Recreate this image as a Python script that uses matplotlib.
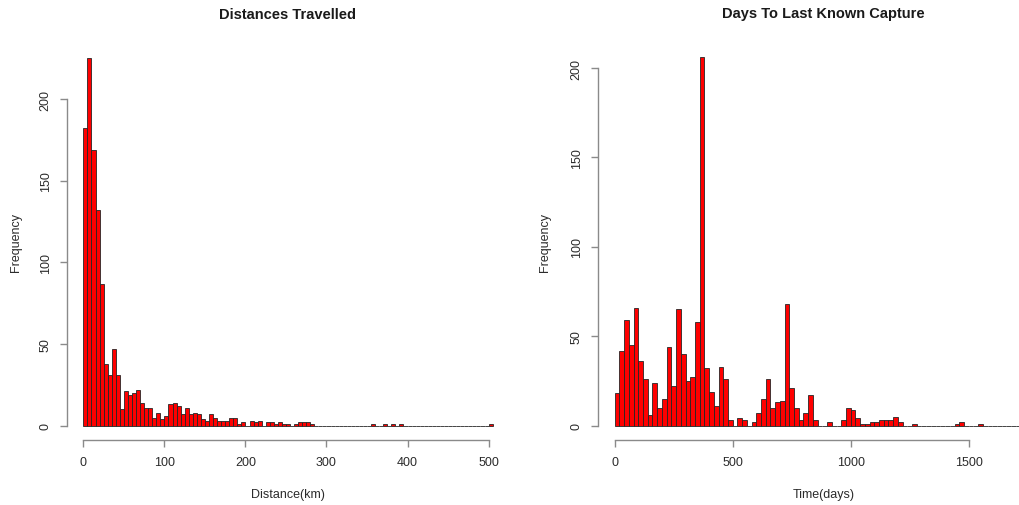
import numpy as np
import matplotlib
matplotlib.use('Agg')
import matplotlib.pyplot as plt

plt.rcParams['font.family'] = ['Liberation Sans', 'DejaVu Sans']

# distance histogram: 5 km bins starting at 0
dist_bin = 5
dist_counts = [182, 225, 169, 132, 87, 38, 31, 47, 31, 10,
               21, 19, 20, 22, 14, 11, 11, 5, 8, 4,
               6, 13, 14, 12, 7, 11, 7, 8, 7, 4,
               3, 7, 5, 3, 3, 3, 5, 5, 1, 2,
               0, 3, 2, 3, 0, 2, 2, 1, 2, 1,
               1, 0, 1, 2, 2, 2, 1, 0, 0, 0,
               0, 0, 0, 0, 0, 0, 0, 0, 0, 0,
               0, 1, 0, 0, 1, 0, 1, 0, 1, 0,
               0, 0, 0, 0, 0, 0, 0, 0, 0, 0,
               0, 0, 0, 0, 0, 0, 0, 0, 0, 0,
               1]

# time histogram: 20 day bins starting at 0
time_bin = 20
time_counts = [18, 42, 59, 45, 66, 36, 26, 6, 24, 10,
               15, 44, 22, 65, 40, 25, 27, 58, 206, 32,
               19, 11, 33, 26, 3, 0, 4, 3, 0, 2,
               7, 15, 26, 10, 13, 14, 68, 21, 10, 3,
               7, 17, 3, 0, 0, 2, 0, 0, 3, 10,
               9, 4, 1, 1, 2, 2, 3, 3, 3, 5,
               2, 0, 0, 1, 0, 0, 0, 0, 0, 0,
               0, 0, 1, 2, 0, 0, 0, 1, 0, 0,
               0, 0, 0, 0, 0, 0, 0, 0, 1]

dist_xticks = [0, 100, 200, 300, 400, 500]
time_xticks = [0, 500, 1000, 1500]
yticks = [0, 50, 100, 150, 200]

axis_col = '#8a8a8a'
text_col = '#2b2b2b'


def rhist(ax, counts, width, xlim, ylim, xticks, title, xlabel, ylab_x):
    counts = np.array(counts)
    lefts = np.arange(len(counts)) * width
    ax.bar(lefts, counts, width=width, align='edge', color='#ff0000',
           edgecolor='#262626', linewidth=0.6)
    ax.set_xlim(*xlim)
    ax.set_ylim(*ylim)
    for s in ['top', 'right']:
        ax.spines[s].set_visible(False)
    ax.spines['left'].set_bounds(0, 200)
    ax.spines['bottom'].set_bounds(xticks[0], xticks[-1])
    for s in ['left', 'bottom']:
        ax.spines[s].set_color(axis_col)
        ax.spines[s].set_linewidth(1.0)
    ax.set_xticks(xticks)
    ax.set_yticks(yticks)
    ax.tick_params(colors=axis_col, labelcolor=text_col, labelsize=9,
                   length=5, width=1.0, pad=6)
    ax.tick_params(axis='y', labelrotation=90)
    for lab in ax.get_yticklabels():
        lab.set_va('center')
    ax.text(0.5, 1.075, title, transform=ax.transAxes, ha='center',
            va='center', fontsize=10.5, fontweight='bold', color='#1a1a1a')
    ax.set_xlabel(xlabel, fontsize=9, color=text_col)
    ax.xaxis.set_label_coords(0.5, -0.12)
    ax.set_ylabel('Frequency', fontsize=9, color=text_col, va='center')
    ax.yaxis.set_label_coords(ylab_x, 0.5)


fig = plt.figure(figsize=(10.2, 5.06), dpi=100)
ax1 = fig.add_axes([0.0657, 0.1277, 0.4333, 0.7842])
ax2 = fig.add_axes([0.5863, 0.1277, 0.4422, 0.7862])

rhist(ax1, dist_counts, dist_bin, (-20.2, 525.2), (-9, 234),
      dist_xticks, 'Distances Travelled', 'Distance(km)', -0.115)
rhist(ax2, time_counts, time_bin, (-70.8, 1840.8), (-8.24, 214.24),
      time_xticks, 'Days To Last Known Capture', 'Time(days)', -0.117)

plt.savefig('out.png', dpi=100)
